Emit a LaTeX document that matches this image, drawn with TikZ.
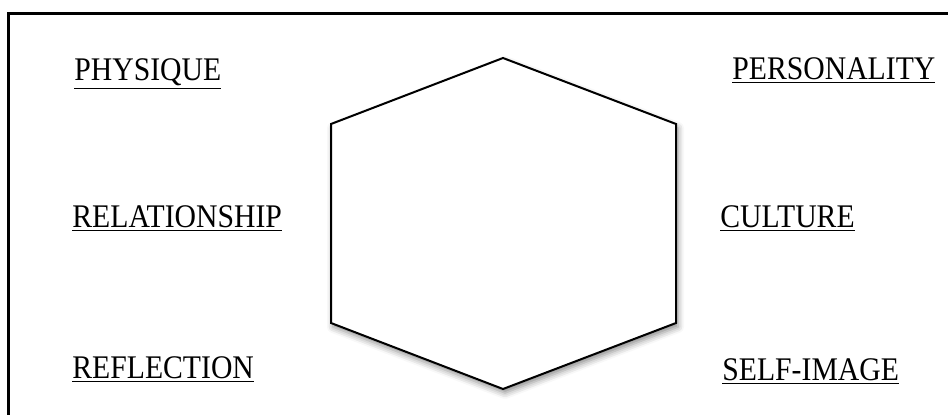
\documentclass[tikz,border=0pt]{standalone}
\usepackage{fontspec}
\setmainfont{Liberation Serif}
\usetikzlibrary{shadows.blur}
\newcommand{\lbltext}[1]{\scalebox{0.9}[1]{\underline{#1}}}
\begin{document}
\begin{tikzpicture}[x=0.5pt, y=0.5pt, lbl/.style={anchor=base west, inner sep=0pt, font=\fontsize{16.5}{19}\selectfont}]
  \useasboundingbox (0,0) rectangle (948,414);
  \clip (0,0) rectangle (948,414);
  \draw[line width=1.5pt] (8.5,-20) -- (8.5,400.5) -- (970,400.5);
  % hexagon
  \coordinate (t) at (503,356); \coordinate (ur) at (676,290); \coordinate (lr) at (676,91);
  \coordinate (b) at (503,25); \coordinate (ll) at (331,91); \coordinate (ul) at (331,290);
  \draw[line width=1pt, fill=white, blur shadow={shadow xshift=1pt, shadow yshift=-2pt, shadow blur radius=3pt, shadow opacity=45}]
    (t) -- (ur) -- (lr) -- (b) -- (ll) -- (ul) -- cycle;
  % labels
  \node[lbl] (physique) at (74,334) {\lbltext{PHYSIQUE}};
  \node[lbl] (relation) at (72,187) {\lbltext{RELATIONSHIP}};
  \node[lbl] (reflect) at (72,36) {\lbltext{REFLECTION}};
  \node[lbl] (person) at (732,335) {\lbltext{PERSONALITY}};
  \node[lbl] (culture) at (720,187) {\lbltext{CULTURE}};
  \node[lbl] (selfimg) at (722,34) {\lbltext{SELF-IMAGE}};
\end{tikzpicture}
\end{document}
